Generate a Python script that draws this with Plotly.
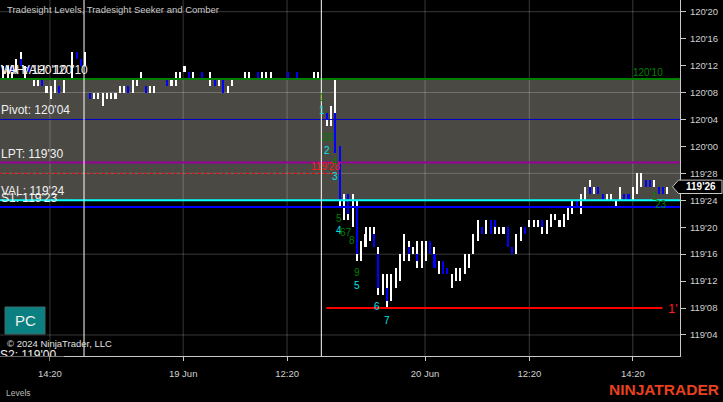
import math
import plotly.graph_objects as go

# ---------------- DATA ----------------
# Prices are stored in 32nds above 119'00  (price = 119 + value / 32)
BASE_PRICE = 119
OPEN = [42, 43, 44, 43, 45, 43, 44, 41, 41, 42, 40, 40, 40, 41, 40, 42, 42, 46, 45, 44,
        40, 39, 39, 39, 39, 39, 39, 40, 40, 41, 40, 41, 42, 41, 40, 40, 42, 42, 42, 41,
        41, 42, 43, 43, 42, 42, 43, 42, 41, 42, 41, 42, 40, 41, 42, 42, 42, 42, 42, 43,
        42, 42, 42, 42, 42, 42, 43, 42, 43, 42, 42, 42, 42, 42, 42, 37, 36, 37, 32, 22,
        25, 21, 23, 16, 17, 18, 19, 16, 11, 11, 10, 12, 12, 15, 17, 16, 16, 15, 15, 18,
        16, 14, 15, 14, 11, 12, 13, 13, 14, 16, 18, 20, 19, 21, 21, 19, 19, 20, 17, 16,
        18, 20, 20, 20, 20, 21, 20, 20, 21, 20, 20, 21, 22, 24, 22, 24, 26, 25, 26, 25,
        24, 24, 23, 24, 25, 25, 24, 25, 26, 27, 27, 26, 26, 26, 25]
HIGH = [44, 44, 44, 45, 46, 44, 44, 42, 42, 42, 41, 41, 42, 41, 42, 42, 46, 46, 45, 46,
        40, 40, 40, 40, 40, 40, 40, 41, 41, 41, 42, 42, 43, 41, 41, 41, 42, 42, 42, 42,
        43, 43, 44, 43, 43, 42, 43, 42, 43, 42, 42, 42, 41, 42, 42, 42, 43, 43, 42, 43,
        43, 43, 43, 42, 42, 42, 43, 42, 43, 42, 42, 42, 43, 43, 42, 37, 38, 42, 32, 25,
        25, 25, 24, 18, 20, 20, 20, 17, 13, 13, 13, 14, 16, 19, 18, 17, 18, 18, 18, 18,
        17, 15, 15, 14, 13, 14, 14, 16, 16, 19, 21, 20, 21, 21, 21, 20, 20, 20, 17, 19,
        20, 20, 21, 21, 21, 21, 21, 22, 22, 21, 22, 23, 24, 24, 25, 26, 27, 26, 26, 25,
        25, 25, 24, 26, 25, 25, 26, 28, 28, 27, 27, 27, 26, 26, 26]
LOW = [42, 42, 42, 43, 44, 42, 43, 41, 41, 41, 40, 39, 40, 40, 40, 42, 42, 45, 44, 44,
       39, 39, 39, 38, 39, 39, 39, 40, 40, 40, 40, 41, 42, 40, 40, 40, 42, 42, 41, 41,
       41, 42, 43, 42, 42, 42, 42, 42, 41, 41, 41, 40, 40, 41, 42, 42, 42, 42, 42, 42,
       42, 42, 42, 42, 42, 42, 42, 42, 42, 42, 42, 42, 42, 42, 42, 35, 35, 31, 23, 21,
       21, 20, 15, 15, 17, 18, 17, 10, 10, 8, 9, 11, 12, 15, 15, 16, 14, 14, 15, 16,
       14, 13, 13, 13, 11, 12, 12, 13, 14, 16, 18, 19, 19, 19, 19, 19, 19, 17, 16, 16,
       18, 19, 20, 20, 20, 19, 19, 20, 21, 20, 20, 21, 22, 23, 22, 24, 25, 25, 25, 24,
       24, 24, 23, 24, 24, 24, 24, 25, 26, 26, 26, 26, 25, 25, 25]
CLOSE = [43, 44, 43, 45, 44, 44, 43, 42, 42, 41, 41, 41, 42, 40, 42, 42, 45, 45, 44, 45,
         39, 40, 40, 40, 40, 40, 40, 41, 41, 40, 42, 42, 43, 40, 41, 41, 42, 42, 41, 42,
         42, 43, 44, 42, 43, 42, 42, 42, 43, 41, 42, 40, 41, 42, 42, 42, 43, 43, 42, 42,
         43, 43, 43, 42, 42, 42, 42, 42, 42, 42, 42, 42, 43, 43, 42, 36, 37, 31, 24, 24,
         22, 24, 16, 17, 19, 19, 17, 11, 12, 9, 12, 13, 15, 18, 16, 17, 15, 17, 18, 16,
         14, 15, 13, 13, 12, 14, 14, 15, 16, 18, 20, 19, 21, 19, 20, 20, 20, 17, 16, 18,
         20, 19, 21, 21, 21, 20, 21, 21, 22, 21, 22, 23, 24, 23, 25, 26, 25, 26, 25, 24,
         25, 25, 24, 26, 24, 24, 26, 27, 27, 26, 26, 27, 25, 25, 26]

# x-axis tick positions (bar index) and their labels
X_TICK_BARS = [10.8, 41.7, 65.8, 97.8, 122.0, 146.0]
X_TICK_LABELS = ["14:20", "19 Jun", "12:20", "20 Jun", "12:20", "14:20"]
SESSION_BREAKS = [18.7, 73.75]

# y-axis ticks (32nds above 119'00) and grid levels
Y_TICKS = [4, 8, 12, 16, 20, 24, 28, 32, 36, 40, 44, 48, 52]
Y_GRID = [4, 16, 28, 40, 52]

# Tradesight levels (32nds above 119'00)
VAH = 42
PIVOT = 36
LPT = 29.6
VAL = 24
S1 = 23
S2 = 0
STOP_LEVEL = 28      # red dashed, 119'28
TARGET_LEVEL = 8     # red solid, 119'08

# Seeker / Comber counts: (bar position, level in 32nds, text, kind)
COUNTS = [(73.8, 39.3, "1", "g"), (73.8, 37.4, "1", "c"), (75.4, 33.3, "23", "g"),
          (75.0, 31.45, "2", "c"), (76.9, 29.7, "4", "g"), (76.9, 27.5, "3", "c"),
          (77.9, 21.3, "5", "g"), (77.8, 19.5, "4", "c"), (79.4, 19.2, "67", "g"),
          (80.9, 18.1, "8", "g"), (82.0, 13.3, "9", "g"), (82.0, 11.4, "5", "c"),
          (86.7, 8.3, "6", "c"), (88.9, 6.1, "7", "c"), (151.1, 24.5, "1", "g"),
          (152.5, 23.3, "23", "g")]

# ---------------- helpers ----------------
W, H = 723, 402
PL, PR, PT, PB = 0, 680, 0, 356        # plot area in pixels
BAR_PX = 4.311
BAR0_PX = 3.4
X_RANGE = [(PL - BAR0_PX) / BAR_PX, (PR - BAR0_PX) / BAR_PX]
PX_PER_32 = 6.735
V_TOP = 52 + 11.7 / PX_PER_32
V_BOT = 52 - (PB - 11.7) / PX_PER_32


def price(v):
    return BASE_PRICE + v / 32.0


def fmt(v):
    p = price(v)
    whole = math.floor(p + 1e-9)
    f = int(round((p - whole) * 32))
    if f == 32:
        whole, f = whole + 1, 0
    return f"{whole}'{f:02d}"


def px(xp):
    return xp / (PR - PL)


def py(yp):
    return 1 - yp / (PB - PT)


FONT = "Liberation Sans, Arial, sans-serif"
WHITE = "#ffffff"
BLUE = "#0000ff"

n = len(CLOSE)
idx = list(range(n))
MIN_H = 0.16 / 32

wick_base = [price(l) for l in LOW]
wick_h = [max(price(h) - price(l), MIN_H) for h, l in zip(HIGH, LOW)]
body_base = [price(min(o, c)) for o, c in zip(OPEN, CLOSE)]
body_h = [max(abs(price(c) - price(o)), MIN_H) for o, c in zip(OPEN, CLOSE)]
body_col = [BLUE if c < o else WHITE for o, c in zip(OPEN, CLOSE)]

fig = go.Figure()
fig.add_trace(go.Bar(x=idx, y=wick_h, base=wick_base, width=0.24,
                     marker=dict(color=WHITE, line=dict(width=0)), hoverinfo="skip"))
fig.add_trace(go.Bar(x=idx, y=body_h, base=body_base, width=0.48,
                     marker=dict(color=body_col, line=dict(width=0)), hoverinfo="skip"))
# S2 label sits below the visible range; its lower half is hidden like the original
fig.add_trace(go.Scatter(x=[X_RANGE[0]], y=[price(S2)], mode="text",
                         text=[f"S2: {fmt(S2)}"], textposition="top right",
                         cliponaxis=True, hoverinfo="skip",
                         textfont=dict(family=FONT, size=12, color="#f0f0f0")))

shapes = []
# value-area shading
shapes.append(dict(type="rect", xref="paper", yref="y", x0=0, x1=1,
                   y0=price(VAL), y1=price(VAH), fillcolor="#4a4944",
                   line=dict(width=0), layer="below"))
GRID = "rgba(255,255,255,0.22)"
for g in Y_GRID:
    shapes.append(dict(type="line", xref="paper", yref="y", x0=0, x1=1,
                       y0=price(g), y1=price(g), line=dict(color=GRID, width=1), layer="below"))
for t in X_TICK_BARS:
    shapes.append(dict(type="line", xref="x", yref="paper", x0=t, x1=t, y0=0, y1=1,
                       line=dict(color=GRID, width=1), layer="below"))
# level lines
for val, col, wd in [(VAH, "#008000", 2), (PIVOT, "#0000cc", 1), (LPT, "#990099", 2),
                     (VAL, "#00ffff", 2), (S1, "#0000ff", 2)]:
    shapes.append(dict(type="line", xref="paper", yref="y", x0=0, x1=1,
                       y0=price(val), y1=price(val), line=dict(color=col, width=wd)))
shapes.append(dict(type="line", xref="x", yref="y", x0=X_RANGE[0], x1=78.3,
                   y0=price(STOP_LEVEL), y1=price(STOP_LEVEL),
                   line=dict(color="#ff0000", width=1, dash="dot")))
shapes.append(dict(type="line", xref="x", yref="y", x0=74.9, x1=152.9,
                   y0=price(TARGET_LEVEL), y1=price(TARGET_LEVEL),
                   line=dict(color="#ff0000", width=2)))
for s in SESSION_BREAKS:
    shapes.append(dict(type="line", xref="x", yref="paper", x0=s, x1=s, y0=0, y1=1,
                       line=dict(color=WHITE, width=1)))
# mask the part of the S2 label that falls below the plot area (keeps tick at 14:20)
tick_px = BAR0_PX + X_TICK_BARS[0] * BAR_PX
for a, b in [(0, tick_px - 0.6), (tick_px + 0.6, 64)]:
    shapes.append(dict(type="rect", xref="paper", yref="paper", x0=px(a), x1=px(b),
                       y0=py(366), y1=py(356.6), fillcolor="#000000",
                       line=dict(width=0), layer="above"))
# PC button
shapes.append(dict(type="rect", xref="paper", yref="paper", x0=px(5), x1=px(45),
                   y0=py(334), y1=py(307), fillcolor="#0a8080",
                   line=dict(color="#3c6c6c", width=1)))
# current price marker
last = price(CLOSE[-1])
hh = 6.7 / PX_PER_32 / 32
path = (f"M {px(672.5)},{last} L {px(678.5)},{last + hh} L {px(722)},{last + hh} "
        f"L {px(722)},{last - hh} L {px(678.5)},{last - hh} Z")
shapes.append(dict(type="path", xref="paper", yref="y", path=path,
                   fillcolor="#000000", line=dict(color="#c8c8c8", width=1)))

ann = []
ann.append(dict(text="Tradesight Levels, Tradesight Seeker and Comber", xref="paper",
                yref="paper", x=px(5), y=py(10), xanchor="left", yanchor="middle",
                showarrow=False, font=dict(family=FONT, size=9.5, color="#c8c8c8")))
# level labels
for label, val in [("VAH", VAH), ("Wk VAH", VAH), ("Pivot", PIVOT), ("LPT", LPT),
                   ("VAL", VAL), ("S1", S1)]:
    ann.append(dict(text=f"{label}: {fmt(val)}", xref="paper", yref="y", x=0,
                    y=price(val), xanchor="left", yanchor="bottom", showarrow=False,
                    borderpad=0, yshift=1,
                    font=dict(family=FONT, size=12, color="#f0f0f0")))
ann.append(dict(text=fmt(VAH), xref="x", yref="y", x=149.5, y=price(VAH),
                xanchor="center", yanchor="bottom", showarrow=False, borderpad=0,
                font=dict(family=FONT, size=10, color="#008000")))
ann.append(dict(text=fmt(STOP_LEVEL), xref="x", yref="y", x=78.2, y=price(STOP_LEVEL),
                xanchor="right", yanchor="bottom", showarrow=False, borderpad=0,
                font=dict(family=FONT, size=10, color="#ff1a1a")))
ann.append(dict(text="1'", xref="x", yref="y", x=155.3, y=price(TARGET_LEVEL),
                xanchor="center", yanchor="middle", showarrow=False,
                font=dict(family=FONT, size=13, color="#ff1a1a")))
for bx, lv, t, kind in COUNTS:
    ann.append(dict(text=t, xref="x", yref="y", x=bx, y=price(lv), showarrow=False,
                    xanchor="center", yanchor="middle",
                    font=dict(family=FONT, size=10,
                              color="#008000" if kind == "g" else "#00e5e5")))
ann.append(dict(text="PC", xref="paper", yref="paper", x=px(25), y=py(320.5),
                showarrow=False, xanchor="center", yanchor="middle",
                font=dict(family=FONT, size=15, color="#f0f0f0")))
ann.append(dict(text="© 2024 NinjaTrader, LLC", xref="paper", yref="paper", x=px(5),
                y=py(343), xanchor="left", yanchor="middle", showarrow=False,
                font=dict(family=FONT, size=9.5, color="#e0e0e0")))
ann.append(dict(text="Levels", xref="paper", yref="paper", x=px(4), y=py(392.5),
                xanchor="left", yanchor="middle", showarrow=False,
                font=dict(family=FONT, size=8.5, color="#b8b8b8")))
ann.append(dict(text="<b>NINJATRADER</b>", xref="paper", yref="paper", x=px(721),
                y=py(390), xanchor="right", yanchor="middle", showarrow=False,
                font=dict(family=FONT, size=15.5, color="#e8411e")))
ann.append(dict(text=f"<b>{fmt(CLOSE[-1])}</b>", xref="paper", yref="y", x=px(701),
                y=last, xanchor="center", yanchor="middle", showarrow=False,
                font=dict(family=FONT, size=10, color="#ffffff")))

fig.update_layout(
    width=W, height=H,
    margin=dict(l=PL, r=W - PR, t=PT, b=H - PB, pad=0),
    paper_bgcolor="#000000", plot_bgcolor="#000000",
    showlegend=False, barmode="overlay", bargap=0,
    shapes=shapes, annotations=ann,
    xaxis=dict(range=X_RANGE, showgrid=False, zeroline=False, showline=True,
               linecolor="#c8c8c8", linewidth=1, ticks="outside", ticklen=4,
               tickcolor="#c8c8c8", tickvals=X_TICK_BARS, ticktext=X_TICK_LABELS,
               tickfont=dict(family=FONT, size=9.5, color="#d0d0d0"),
               ticklabelstandoff=5, fixedrange=True),
    yaxis=dict(range=[price(V_BOT), price(V_TOP)], side="right", showgrid=False,
               zeroline=False, showline=True, linecolor="#c8c8c8", linewidth=1,
               ticks="outside", ticklen=5, tickcolor="#c8c8c8",
               tickvals=[price(t) for t in Y_TICKS], ticktext=[fmt(t) for t in Y_TICKS],
               tickfont=dict(family=FONT, size=9.5, color="#d0d0d0"),
               ticklabelstandoff=2, fixedrange=True),
)

fig.write_html("out.html", config={"displayModeBar": False},
               post_script="document.body.style.margin='0px';"
                           "document.body.style.overflow='hidden';")
